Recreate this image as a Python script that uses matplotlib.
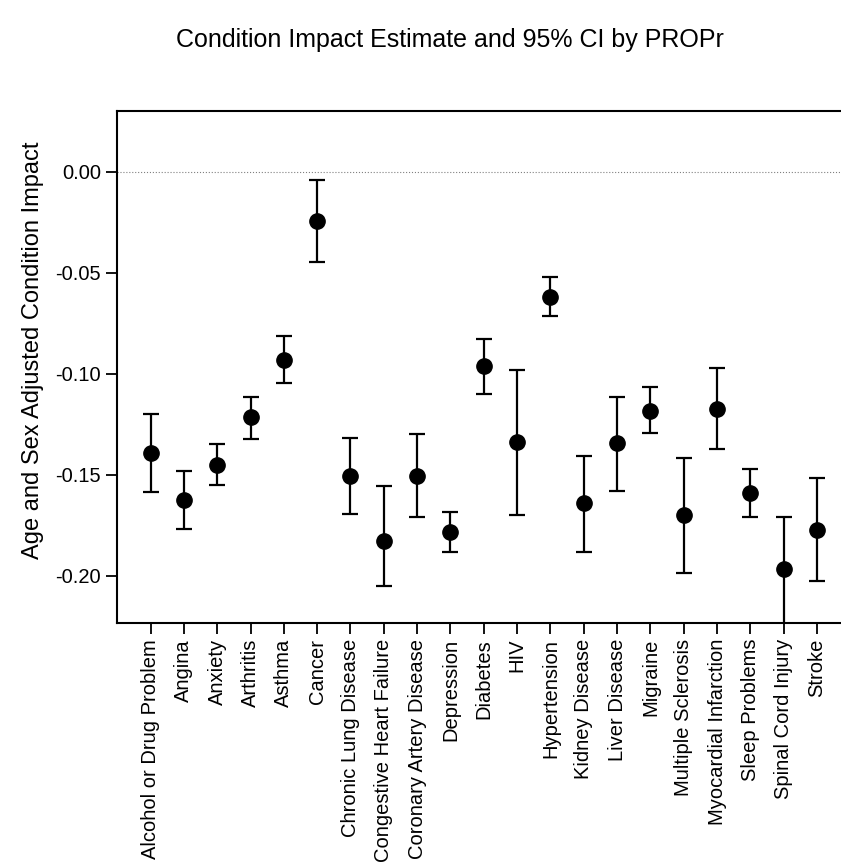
import matplotlib.pyplot as plt
import numpy as np

plt.rcParams['font.family'] = ['Liberation Sans', 'DejaVu Sans']

# Data
conditions = ["Alcohol or Drug Problem", "Angina", "Anxiety", "Arthritis", "Asthma",
              "Cancer", "Chronic Lung Disease", "Congestive Heart Failure",
              "Coronary Artery Disease", "Depression", "Diabetes", "HIV", "Hypertension",
              "Kidney Disease", "Liver Disease", "Migraine", "Multiple Sclerosis",
              "Myocardial Infarction", "Sleep Problems", "Spinal Cord Injury", "Stroke"]
estimates = [-0.139, -0.1625, -0.145, -0.1215, -0.093, -0.0243, -0.1507, -0.1828,
             -0.1507, -0.1782, -0.0962, -0.1337, -0.0619, -0.1642, -0.1345, -0.1183,
             -0.1701, -0.1172, -0.1589, -0.1967, -0.1774]
ci_upper = [-0.1198, -0.148, -0.1348, -0.1114, -0.0814, -0.0041, -0.132, -0.1556,
            -0.1299, -0.1686, -0.0828, -0.0982, -0.0523, -0.1408, -0.1114, -0.1066,
            -0.1416, -0.097, -0.1469, -0.1708, -0.1517]
ci_lower = [-0.1584, -0.1769, -0.1551, -0.1322, -0.1045, -0.0447, -0.1695, -0.2051,
            -0.1708, -0.1881, -0.1101, -0.17, -0.0715, -0.1881, -0.1579, -0.1295,
            -0.1988, -0.1373, -0.1711, -0.226, -0.2026]

est = np.array(estimates)
yerr = [est - np.array(ci_lower), np.array(ci_upper) - est]
x = np.arange(len(conditions))

fig = plt.figure(figsize=(8.41, 8.65), dpi=100)
ax = fig.add_axes([0.139, 0.2798, 0.861, 0.592])

# Reference line at zero
ax.axhline(0, color='gray', linestyle=':', linewidth=0.8)

ax.errorbar(x, est, yerr=yerr, fmt='o', color='black', markersize=11,
            elinewidth=1.6, capsize=6, capthick=1.6)

ax.set_xlim(-1.01, 20.72)
ax.set_ylim(-0.2234, 0.0302)
ax.set_yticks([0.0, -0.05, -0.10, -0.15, -0.20])
ax.set_yticklabels(["0.00", "-0.05", "-0.10", "-0.15", "-0.20"], fontsize=14.5)
ax.set_xticks(x)
ax.set_xticklabels(conditions, rotation=90, fontsize=14.5)
ax.tick_params(direction='out', length=8, width=1.3)
ax.set_ylabel("Age and Sex Adjusted Condition Impact", fontsize=17)
ax.yaxis.set_label_coords(-0.1, 0.533)

for s in ax.spines.values():
    s.set_linewidth(1.5)
ax.spines['right'].set_visible(False)

fig.text(0.535, 0.954, "Condition Impact Estimate and 95% CI by PROPr",
         ha='center', va='center', fontsize=18)

plt.savefig("out.png", dpi=100)
